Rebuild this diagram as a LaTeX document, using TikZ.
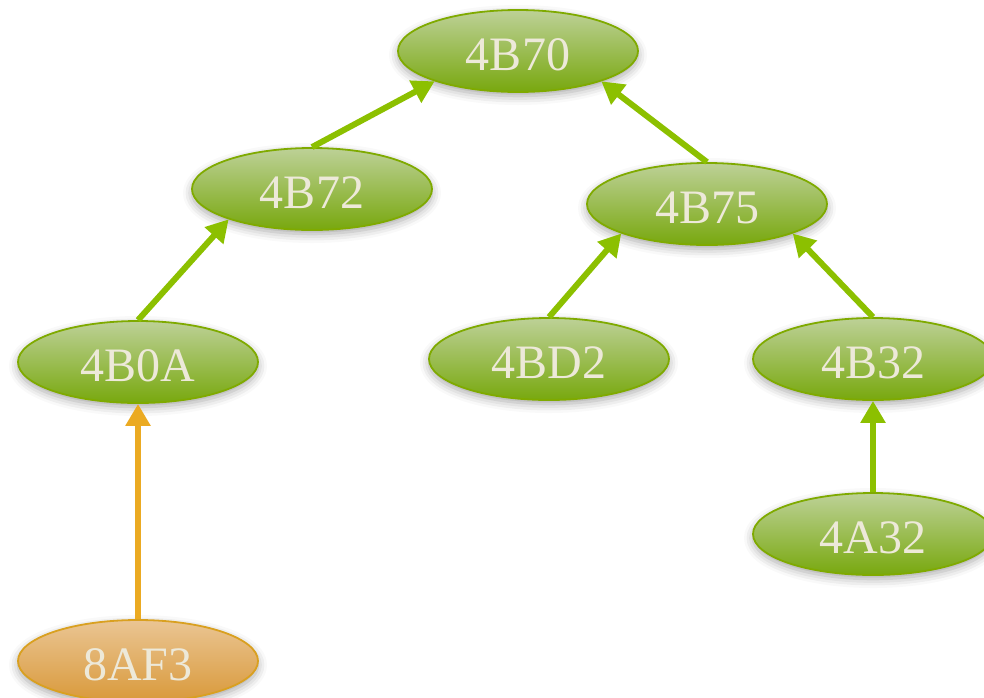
\documentclass[tikz,border=0pt]{standalone}
\usepackage{fontspec}
\setmainfont{Liberation Serif}
\usetikzlibrary{shapes.geometric,arrows.meta,shadows.blur}
\definecolor{gtop}{HTML}{BDD197}
\definecolor{gbot}{HTML}{78A80E}
\definecolor{gline}{HTML}{7FAA00}
\definecolor{garrow}{HTML}{8CC000}
\definecolor{otop}{HTML}{EAC593}
\definecolor{obot}{HTML}{D9993A}
\definecolor{oline}{HTML}{D9A020}
\definecolor{oarrow}{HTML}{EBAA22}
\definecolor{txt}{HTML}{EDE9D9}
\tikzset{
  base/.style={ellipse, minimum width=240pt, minimum height=82pt, inner sep=0pt,
    line width=1.8pt, text=txt, font=\fontsize{48}{48}\selectfont,
    text height=40pt, text depth=1.2pt,
    blur shadow={shadow xshift=0pt, shadow yshift=-4pt, shadow blur radius=9pt, shadow opacity=35}},
  gnode/.style={base, draw=gline, top color=gtop, bottom color=gbot},
  onode/.style={base, draw=oline, top color=otop, bottom color=obot},
  garr/.style={draw=garrow, line width=6pt, -{Triangle[length=22pt,width=24pt]}},
  oarr/.style={draw=oarrow, line width=6pt, -{Triangle[length=22pt,width=24pt]}}
}
\begin{document}
\begin{tikzpicture}[x=1pt,y=-1pt]
\useasboundingbox (0,0) rectangle (984,697);
\node[gnode] (n70) at (518,51) {4B70};
\node[gnode] (n72) at (312,189) {4B72};
\node[gnode] (n75) at (707,204) {4B75};
\node[gnode] (n0A) at (138,362) {4B0A};
\node[gnode] (nD2) at (549,359) {4BD2};
\node[gnode] (n32) at (873,359) {4B32};
\node[gnode] (nA32) at (873,534) {4A32};
\node[onode] (nAF3) at (138,661) {8AF3};
\draw[garr] (n72.north) -- (n70.200);
\draw[garr] (n75.north) -- (n70.340);
\draw[garr] (n0A.north) -- (n72.200);
\draw[garr] (nD2.north) -- (n75.199);
\draw[garr] (n32.north) -- (n75.341);
\draw[garr] (nA32.north) -- (n32.south);
\draw[oarr] (nAF3.north) -- (n0A.south);
\end{tikzpicture}
\end{document}
